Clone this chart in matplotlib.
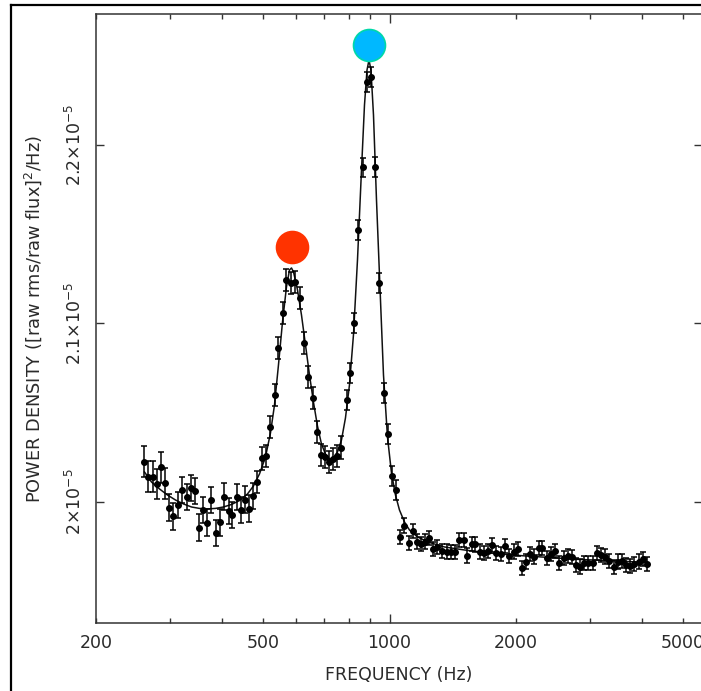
import numpy as np
import matplotlib
matplotlib.use("Agg")
import matplotlib.pyplot as plt
from matplotlib.ticker import FixedLocator, FuncFormatter, NullFormatter
from matplotlib.lines import Line2D

# power density spectrum (values in units of 1e-5)
freq = [260.9, 265.7, 273.1, 279.4, 285.9, 292.7, 299.2, 305.0, 313.2, 320.5,
        328.5, 336.3, 344.1, 352.1, 359.9, 367.5, 376.1, 386.7, 395.3, 404.5,
        414.1, 422.7, 432.8, 442.8, 452.2, 461.5, 473.8, 483.5, 497.4, 508.5,
        520.6, 532.7, 543.9, 556.9, 568.3, 581.9, 596.4, 611.9, 625.5, 641.1,
        656.4, 671.7, 687.3, 701.0, 716.2, 732.5, 749.5, 767.0, 790.9, 807.1,
        825.0, 843.4, 863.5, 882.7, 902.2, 924.8, 946.3, 968.9, 991.4, 1014.5,
        1037.0, 1060.0, 1085.3, 1111.1, 1135.8, 1162.2, 1188.0, 1214.3, 1239.2, 1267.4,
        1300.7, 1336.7, 1367.8, 1398.9, 1430.0, 1467.3, 1501.5, 1533.1, 1571.4, 1600.1,
        1640.1, 1678.3, 1713.7, 1753.6, 1797.4, 1840.2, 1885.2, 1930.1, 1978.2, 2019.9,
        2069.2, 2115.0, 2161.9, 2213.5, 2266.3, 2308.9, 2367.7, 2425.6, 2483.4, 2538.4,
        2599.0, 2656.6, 2721.5, 2781.8, 2843.4, 2911.2, 2975.7, 3046.5, 3113.9, 3189.9,
        3265.9, 3338.1, 3417.7, 3493.5, 3578.7, 3658.1, 3745.3, 3828.3, 3919.6, 4006.5,
        4104.2]
power = [2.0226, 2.0142, 2.0142, 2.0101, 2.0194, 2.0105, 1.9969, 1.9919, 1.9983, 2.0067,
         2.0028, 2.0077, 2.0062, 1.9856, 1.9955, 1.9884, 2.0011, 1.9825, 1.9886, 2.0030,
         1.9950, 1.9927, 2.0028, 1.9955, 2.0013, 1.9963, 2.0034, 2.0112, 2.0244, 2.0259,
         2.0420, 2.0597, 2.0861, 2.1061, 2.1244, 2.1227, 2.1234, 2.1144, 2.0889, 2.0699,
         2.0584, 2.0394, 2.0263, 2.0254, 2.0226, 2.0239, 2.0258, 2.0305, 2.0571, 2.0721,
         2.1001, 2.1524, 2.1874, 2.2355, 2.2379, 2.1878, 2.1225, 2.0611, 2.0381, 2.0146,
         2.0067, 1.9804, 1.9868, 1.9772, 1.9839, 1.9778, 1.9763, 1.9778, 1.9797, 1.9736,
         1.9748, 1.9724, 1.9722, 1.9721, 1.9718, 1.9785, 1.9787, 1.9700, 1.9766, 1.9762,
         1.9722, 1.9714, 1.9727, 1.9759, 1.9713, 1.9709, 1.9755, 1.9696, 1.9722, 1.9735,
         1.9629, 1.9666, 1.9709, 1.9694, 1.9741, 1.9741, 1.9685, 1.9709, 1.9727, 1.9657,
         1.9685, 1.9698, 1.9690, 1.9647, 1.9638, 1.9657, 1.9657, 1.9657, 1.9716, 1.9703,
         1.9694, 1.9671, 1.9637, 1.9666, 1.9671, 1.9647, 1.9642, 1.9653, 1.9666, 1.9679,
         1.9653]
error = [0.0086] * 6 + [0.0074] * 21 + [0.0062] * 21 + [0.0056] * 13 + [0.0040] * 60

# fitted model
model_freq = [260.9, 271.1, 283.3, 296.0, 309.3, 323.1, 337.6, 352.7, 368.5, 385.0,
              402.3, 420.3, 439.2, 458.9, 474.3, 490.1, 506.5, 520.6, 532.1, 543.9,
              556.0, 568.3, 577.8, 584.1, 590.6, 603.7, 617.0, 630.7, 644.7, 658.9,
              673.5, 688.5, 703.7, 719.3, 735.3, 751.7, 768.3, 785.3, 802.7, 820.5,
              838.8, 857.4, 871.6, 883.7, 893.4, 903.2, 915.7, 930.9, 946.3, 967.3,
              988.7, 1010.6, 1033.0, 1055.9, 1085.3, 1115.4, 1165.4, 1244.7, 1351.4, 1508.1,
              1729.8, 2038.6, 2403.2, 2833.4, 3431.3, 4111.0]
model_power = [2.0168, 2.0112, 2.0073, 2.0039, 2.0011, 1.9989, 1.9972, 1.9964, 1.9961, 1.9964,
               1.9972, 1.9986, 2.0008, 2.0045, 2.0090, 2.0157, 2.0252, 2.0387, 2.0543, 2.0768,
               2.1008, 2.1205, 2.1300, 2.1311, 2.1289, 2.1188, 2.1048, 2.0880, 2.0712, 2.0560,
               2.0426, 2.0325, 2.0269, 2.0241, 2.0247, 2.0280, 2.0347, 2.0471, 2.0656, 2.0936,
               2.1356, 2.1860, 2.2224, 2.2420, 2.2476, 2.2420, 2.2168, 2.1692, 2.1272, 2.0712,
               2.0364, 2.0163, 2.0039, 1.9955, 1.9888, 1.9843, 1.9804, 1.9773, 1.9748, 1.9731,
               1.9714, 1.9700, 1.9689, 1.9678, 1.9670, 1.9661]

# QPO peak markers
peak_freq = [586.4, 895.8]
peak_power = [2.1430, 2.2560]
peak_colors = ['#ff3300', '#00b8ff']
peak_edges = ['#ff3300', '#00d8a8']

x_labelled = [200, 500, 1000, 2000, 5000]
y_ticks = [2.0, 2.1, 2.2]
y_tick_labels = ['2×10$^{-5}$', '2.1×10$^{-5}$', '2.2×10$^{-5}$']

SCALE = 1e-5
TEXT = '#2a2a2a'

fig = plt.figure(figsize=(7.01, 6.91), dpi=100)
ax = fig.add_axes([96 / 701, 68 / 691, 606 / 701, 609 / 691])

f = np.array(freq)
p = np.array(power) * SCALE
e = np.array(error) * SCALE
ax.plot(model_freq, np.array(model_power) * SCALE, color='#111111', lw=1.1, zorder=2)
ax.errorbar(f, p, yerr=e, fmt='o', color='black', ms=4, elinewidth=1.1,
            capsize=2.4, capthick=1.1, zorder=3)
for pf, pp, c, ec in zip(peak_freq, peak_power, peak_colors, peak_edges):
    ax.plot(pf, pp * SCALE, 'o', ms=23, color=c, mec=ec, mew=1.2, zorder=4)

ax.set_xscale('log')
ax.set_xlim(200, 5546)
ax.set_ylim(1.9322 * SCALE, 2.2734 * SCALE)

# decade ticks are major, the rest minor; only some get labels
ax.xaxis.set_major_locator(FixedLocator([1000]))
minor = [m * d for d in (100, 1000) for m in range(2, 10) if m * d != 1000 and m * d < 5600]
ax.xaxis.set_minor_locator(FixedLocator(minor))
lab = FuncFormatter(lambda v, pos: '%d' % round(v) if round(v) in x_labelled else '')
ax.xaxis.set_major_formatter(lab)
ax.xaxis.set_minor_formatter(lab)
ax.set_yticks([v * SCALE for v in y_ticks])
ax.set_yticklabels(y_tick_labels)
ax.yaxis.set_minor_formatter(NullFormatter())

ax.tick_params(which='both', direction='in', top=True, right=True, colors='#333333',
               labelcolor=TEXT, labelsize=12.5, width=1.0)
ax.tick_params(axis='x', which='major', length=6.5, pad=8)
ax.tick_params(axis='x', which='minor', length=3.3, pad=8)
ax.tick_params(axis='y', which='major', length=5.8, pad=8)
plt.setp(ax.get_yticklabels(), rotation=90, va='center')
for s in ax.spines.values():
    s.set_color('#333333')
    s.set_linewidth(1.1)

ax.set_xlabel('FREQUENCY (Hz)', fontsize=12.5, color=TEXT, va='center')
ax.xaxis.set_label_coords(0.5, -0.0854)
ax.set_ylabel('POWER DENSITY ([raw rms/raw flux]$^2$/Hz)', fontsize=12.8,
              color=TEXT, va='center')
ax.yaxis.set_label_coords(-0.104, 0.5)

# outer frame, only left and top edges fall inside the picture
fx, fy = 11 / 701, 1 - 5 / 691
fig.add_artist(Line2D([fx, fx], [0, fy], color='black', lw=1.6))
fig.add_artist(Line2D([fx, 1], [fy, fy], color='black', lw=1.6))

fig.savefig('out.png', dpi=100)
